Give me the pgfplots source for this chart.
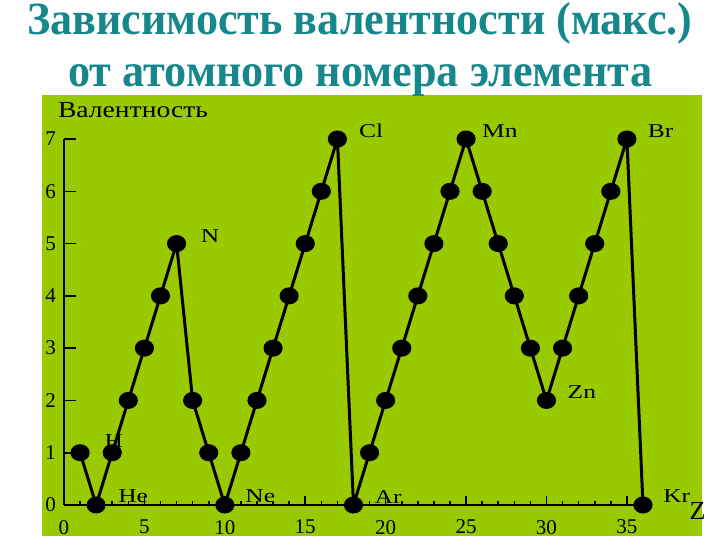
\documentclass[border=0pt]{standalone}
\usepackage{pgfplots}
\pgfplotsset{compat=1.18}
\usepackage{pgfplotstable}
\usepackage{graphicx}
\usepackage{fontspec}
\setmainfont{Liberation Serif}

\definecolor{bggreen}{RGB}{153,202,0}
\definecolor{titleteal}{RGB}{22,136,140}

% Z, max valence
\pgfplotstableread{
Z v
1 1
2 0
3 1
4 2
5 3
6 4
7 5
8 2
9 1
10 0
11 1
12 2
13 3
14 4
15 5
16 6
17 7
18 0
19 1
20 2
21 3
22 4
23 5
24 6
25 7
26 6
27 5
28 4
29 3
30 2
31 3
32 4
33 5
34 6
35 7
36 0
}\valtable

\newcommand{\lab}[1]{\scalebox{1.3}[1]{\fontsize{9.8pt}{10pt}\selectfont #1}}

\begin{document}
\begin{tikzpicture}
\path[use as bounding box] (0,0) rectangle (360pt,-270pt);
\fill[bggreen] (21pt,-47.5pt) rectangle (351pt,-268pt);
\node[anchor=base west,inner sep=0,text=titleteal] at (13.5pt,-17.5pt)
  {\resizebox{332.5pt}{16pt}{\bfseries Зависимость валентности (макс.)}};
\node[anchor=base west,inner sep=0,text=titleteal] at (34pt,-43.5pt)
  {\resizebox{292pt}{11pt}{\bfseries от атомного номера элемента}};

% y axis only
\begin{axis}[
  at={(32pt,-252.5pt)}, anchor=south west,
  scale only axis, width=289.5pt, height=183pt,
  xmin=0, xmax=36, ymin=0, ymax=7,
  axis y line*=left, axis x line=none,
  axis line style={line width=1pt},
  ytick={0,...,7},
  tick align=inside, major tick length=6pt,
  tick style={black, line width=0.8pt},
  yticklabel style={font=\fontsize{10.5pt}{11pt}\selectfont, xshift=-0.5pt},
  /pgf/number format/assume math mode=true,
]
\end{axis}

% x axis, data and labels
\begin{axis}[
  at={(32pt,-252.5pt)}, anchor=south west,
  scale only axis, width=289.5pt, height=183pt,
  xmin=0, xmax=36, ymin=0, ymax=7,
  axis x line*=bottom, axis y line=none,
  axis line style={line width=1pt},
  xtick={0,5,...,35}, minor x tick num=4,
  tick align=inside, major tick length=4.5pt, minor tick length=2pt,
  tick style={black, line width=0.8pt},
  xticklabel style={font=\fontsize{10.5pt}{11pt}\selectfont, yshift=-4pt},
  /pgf/number format/assume math mode=true,
  clip=false,
]
\addplot[black, line width=1.5pt, mark=*, mark size=3.5pt,
  mark options={xscale=1.15}] table[x=Z, y=v] {\valtable};

\node at (axis cs:4.29,7.55) {\scalebox{1.2}[1]{\fontsize{11.5pt}{12pt}\selectfont Валентность}};
\node at (axis cs:3.1,1.22) {\lab{H}};
\node at (axis cs:4.3,0.17) {\lab{He}};
\node at (axis cs:9.08,5.14) {\lab{N}};
\node at (axis cs:12.2,0.17) {\lab{Ne}};
\node at (axis cs:19.1,7.15) {\lab{Cl}};
\node at (axis cs:20.15,0.15) {\lab{Ar}};
\node at (axis cs:27.1,7.15) {\lab{Mn}};
\node at (axis cs:32.2,2.16) {\lab{Zn}};
\node at (axis cs:37.1,7.15) {\lab{Br}};
\node at (axis cs:38.1,0.17) {\lab{Kr}};
\node at (axis cs:39.4,-0.11) {\fontsize{13pt}{14pt}\selectfont Z};
\end{axis}
\end{tikzpicture}
\end{document}
